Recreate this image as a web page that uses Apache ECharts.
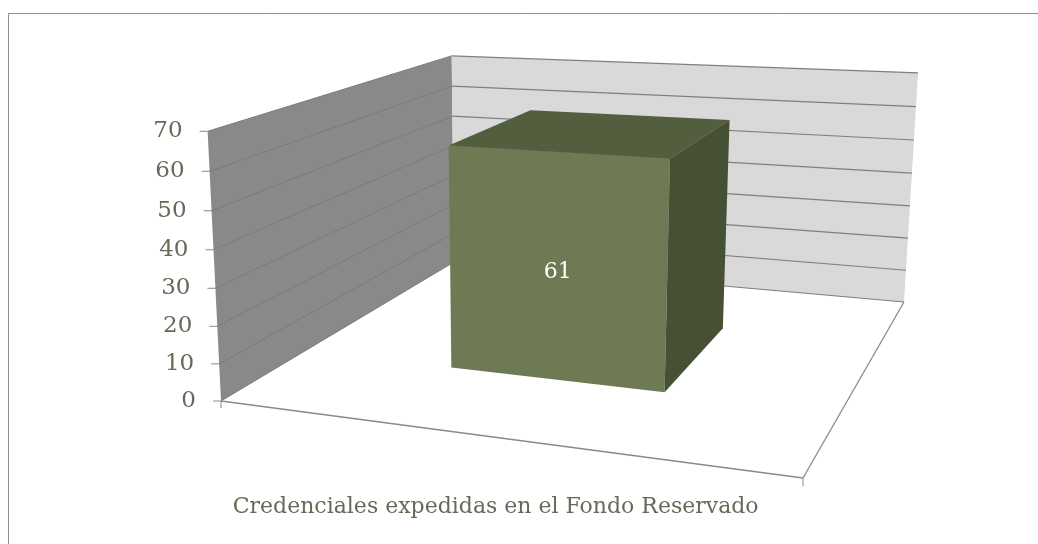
<!DOCTYPE html>
<html lang="es">
<head>
<meta charset="UTF-8">
<title>Credenciales expedidas</title>
<script src="https://cdn.jsdelivr.net/npm/echarts@6/dist/echarts.min.js"></script>
<style>
    html, body { margin: 0; padding: 0; background: #fff; }
    #grafico { width: 1038px; height: 544px; }
</style>
</head>
<body>
<div id="grafico"></div>
<script>
    // datos
    var categorias = ['Credenciales expedidas en el Fondo Reservado'];
    var valores = [61];
    var ticksY = [0, 10, 20, 30, 40, 50, 60, 70];

    var colorTexto = '#6b6759';
    var fuente = 'DejaVu Serif';

    // perspectiva: suelo unitario (u = ancho, v = fondo), t = altura 0..1  -> pixeles
    var H = { a: 472.32, b: 380.09, c: 221, d: 11.71, e: -54.11, f: 401, g: -0.13659, h: 0.32399 };
    var Q = { x: -22.18, y: -275.26, w: -0.04234 };
    function proy(u, v, t) {
        var w = H.g * u + H.h * v + 1 + Q.w * t;
        return [(H.a * u + H.b * v + H.c + Q.x * t) / w, (H.d * u + H.e * v + H.f + Q.y * t) / w];
    }
    // pasa de la rejilla plana de echarts a (u, t)
    function plano(params, api, cat, val) {
        var cs = params.coordSys;
        var p = api.coord([cat, val]);
        return [(p[0] - cs.x) / cs.width, (cs.y + cs.height - p[1]) / cs.height];
    }
    function poli(pts, fill) {
        return { type: 'polygon', shape: { points: pts }, style: { fill: fill, stroke: null } };
    }
    function linea(p1, p2, color, w) {
        return { type: 'line', shape: { x1: p1[0], y1: p1[1], x2: p2[0], y2: p2[1] }, style: { stroke: color, lineWidth: w || 1 } };
    }

    var chart = echarts.init(document.getElementById('grafico'));

    chart.setOption({
        animation: false,
        grid: { left: 100, right: 100, top: 50, bottom: 100 },
        xAxis: { type: 'category', data: categorias, show: false },
        yAxis: { type: 'value', min: ticksY[0], max: ticksY[ticksY.length - 1], interval: 10, show: false },
        graphic: [{
            type: 'rect', silent: true, z: 0,
            shape: { x: 8.5, y: 13.5, width: 1100, height: 600 },
            style: { fill: 'none', stroke: '#8c8c8c', lineWidth: 1 }
        }],
        series: [{
            // paredes y suelo
            name: 'paredes', type: 'custom', z: 1, silent: true,
            data: [[0, ticksY[ticksY.length - 1]]],
            renderItem: function (params, api) {
                var t = plano(params, api, 0, api.value(1))[1];
                var suelo = [proy(0, 0, 0), proy(1, 0, 0), proy(1, 1, 0), proy(0, 1, 0)];
                return {
                    type: 'group',
                    children: [
                        poli(suelo, '#ffffff'),
                        poli([proy(0, 0, 0), proy(0, 1, 0), proy(0, 1, t), proy(0, 0, t)], '#898989'),
                        poli([proy(0, 1, 0), proy(1, 1, 0), proy(1, 1, t), proy(0, 1, t)], '#d9d9d9'),
                        linea(suelo[0], suelo[1], '#8a8a8a', 1.3),
                        linea(suelo[1], suelo[2], '#8a8a8a', 1.3),
                        // marcas del eje de categorias
                        linea(suelo[0], [suelo[0][0], suelo[0][1] + 7], '#8a8a8a', 1),
                        linea(suelo[1], [suelo[1][0], suelo[1][1] + 8], '#8a8a8a', 1),
                        {
                            type: 'text',
                            style: {
                                text: categorias[0], x: proy(0.5, 0, 0)[0] + 5, y: proy(0.5, 0, 0)[1] + 71,
                                align: 'center', verticalAlign: 'middle',
                                fill: colorTexto, font: '22px "' + fuente + '"'
                            }
                        }
                    ]
                };
            }
        }, {
            // lineas de division, marcas y etiquetas del eje de valores
            name: 'rejilla', type: 'custom', z: 2, silent: true,
            data: ticksY.map(function (v) { return [0, v]; }),
            renderItem: function (params, api) {
                var t = plano(params, api, 0, api.value(1))[1];
                var a = proy(0, 0, t), b = proy(0, 1, t), c = proy(1, 1, t);
                return {
                    type: 'group',
                    children: [
                        linea(a, b, '#7a7a7a', 1),
                        linea(b, c, '#7f7f7f', 1.2),
                        linea([a[0] - 8, a[1]], a, '#8a8a8a', 1),
                        {
                            type: 'text',
                            style: {
                                text: String(api.value(1)), x: a[0] - 25, y: a[1],
                                align: 'right', verticalAlign: 'middle',
                                fill: colorTexto, font: '23px "' + fuente + '"'
                            }
                        }
                    ]
                };
            }
        }, {
            // columna 3D
            name: 'Credenciales', type: 'custom', z: 3,
            data: valores.map(function (v, i) { return [i, v]; }),
            renderItem: function (params, api) {
                var p = plano(params, api, api.value(0), api.value(1));
                var ancho = api.size([1, 0])[0] * 0.4 / params.coordSys.width;
                var u0 = p[0] - ancho / 2, u1 = p[0] + ancho / 2;
                var v0 = 0.3, v1 = 0.7, t = p[1];
                var et = proy(p[0], v0, t / 2);
                return {
                    type: 'group',
                    children: [
                        poli([proy(u0, v0, 0), proy(u1, v0, 0), proy(u1, v0, t), proy(u0, v0, t)], '#6e7a53'),
                        poli([proy(u0, v0, t), proy(u1, v0, t), proy(u1, v1, t), proy(u0, v1, t)], '#535e3f'),
                        poli([proy(u1, v0, 0), proy(u1, v1, 0), proy(u1, v1, t), proy(u1, v0, t)], '#465034'),
                        {
                            type: 'text',
                            style: {
                                text: String(api.value(1)), x: et[0] + 2, y: et[1] + 4,
                                align: 'center', verticalAlign: 'middle',
                                fill: '#ffffff', font: '22px "' + fuente + '"'
                            }
                        }
                    ]
                };
            }
        }]
    });
</script>
</body>
</html>
